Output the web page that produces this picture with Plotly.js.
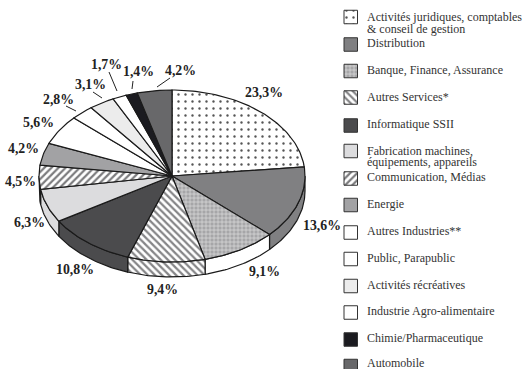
<!DOCTYPE html>
<html>
<head>
<meta charset="utf-8">
<script src="https://cdn.plot.ly/plotly-3.0.1.min.js"></script>
<style>html,body{margin:0;padding:0;background:#fff}#chart{width:523px;height:369px}</style>
</head>
<body>
<div id="chart"></div>
<script>
// Secteurs d'activité, parts en pourcentage
const categories = [
  "Activités juridiques, comptables<br>& conseil de gestion",
  "Distribution",
  "Banque, Finance, Assurance",
  "Autres Services*",
  "Informatique SSII",
  "Fabrication machines,<br>équipements, appareils",
  "Communication, Médias",
  "Energie",
  "Autres Industries**",
  "Public, Parapublic",
  "Activités récréatives",
  "Industrie Agro-alimentaire",
  "Chimie/Pharmaceutique",
  "Automobile"
];
const shares = [23.3, 13.6, 9.1, 9.4, 10.8, 6.3, 4.5, 4.2, 5.6, 2.8, 3.1, 1.7, 1.4, 4.2];

// Apparence de chaque secteur (dessus, flanc)
const topColors  = ["#ffffff","#808082","#b4b4b6","#ffffff","#4b4b4d","#dcdcde","#ffffff","#a2a2a4","#ffffff","#ffffff","#ececec","#ffffff","#1b1b20","#68686a"];
const sideColors = ["#ffffff","#808082","#ffffff","#ffffff","#4b4b4d","#dcdcde","#ffffff","#a2a2a4","#ffffff","#ffffff","#ececec","#ffffff","#1b1b20","#68686a"];
const patterns = [
  {shape:".", size:7, solidity:0.09, fgcolor:"#555", bgcolor:"#fff"},
  null,
  {shape:"+", size:4, solidity:0.3, fgcolor:"#dedee0", bgcolor:"#a6a6a8"},
  {shape:"\\", size:5, solidity:0.45, fgcolor:"#858587", bgcolor:"#fff"},
  null, null,
  {shape:"/", size:5, solidity:0.45, fgcolor:"#7c7c7e", bgcolor:"#fff"},
  null, null, null, null, null, null, null
];
const sidePatterned = [false,false,false,true,false,false,true,false,false,false,false,false,false,false];

// Projection du disque : centre, demi-axes et épaisseur en pixels
const cx = 172, cy = 176, rx = 133, ry = 86, depth = 15;
const W = 523, H = 369;

// Étiquettes de valeur : ancres et filets de rappel
const labelPos = [
  [264,93],[322,225],[264,271],[162,289],[75,269],[29,223],[20,181],
  [23,148],[38,123],[58,99],[90,84],[106,64],[138,72],[180,70]
];
const leaders = [
  null,null,null,null,null,null,null,null,null,
  [[66,106],[76,111]],[[93,92],[102,98]],[[109,72],[117,91]],[[133,81],[132,89]],[[170,78],[157,87]]
];

// Légende : centre des pastilles, centre de chaque ligne de texte
const legendRows = [17,44.5,71,97.5,125.5,151,178.5,205,232.5,259,286,312.5,339.5,366];
const legendTextRows = [[17,28.5],[43],[70],[97],[124],[151,162],[177],[204],[231],[258],[285],[311],[338],[362.5]];
const swatchX = 344, swatchSize = 13.5, legendTextX = 366;

const fmt = v => v.toFixed(1).replace(".", ",") + "%";

function arc(a0, a1, k) {
  const n = Math.max(2, Math.ceil((a1 - a0) / 0.02));
  const xs = [], ys = [];
  for (let i = 0; i <= n; i++) {
    const a = a0 + (a1 - a0) * i / n;
    xs.push(Math.sin(a)); ys.push(Math.cos(a) - k);
  }
  return [xs, ys];
}

const traces = [];
const total = shares.reduce((s, v) => s + v, 0);
const bounds = [];
let run = 0;
shares.forEach(v => { bounds.push([run / total * 2 * Math.PI, (run + v) / total * 2 * Math.PI]); run += v; });

// Flanc visible : moitié avant du disque uniquement
const k = depth / ry;
bounds.forEach((b, i) => {
  const a0 = Math.max(b[0], Math.PI / 2), a1 = Math.min(b[1], 3 * Math.PI / 2);
  if (a1 <= a0) return;
  const [xt, yt] = arc(a0, a1, 0);
  const [xb, yb] = arc(a0, a1, k);
  const t = {
    type: "scatter", mode: "lines", hoverinfo: "skip", showlegend: false,
    x: xt.concat(xb.slice().reverse(), [xt[0]]),
    y: yt.concat(yb.slice().reverse(), [yt[0]]),
    fill: "toself", fillcolor: sideColors[i],
    line: {color: "#1a1a1a", width: 1.2}
  };
  if (sidePatterned[i]) t.fillpattern = patterns[i];
  traces.push(t);
});

// Dessus du disque
bounds.forEach((b, i) => {
  const [xs, ys] = arc(b[0], b[1], 0);
  const t = {
    type: "scatter", mode: "lines", hoverinfo: "skip", showlegend: false, name: categories[i],
    x: [0].concat(xs, [0]), y: [0].concat(ys, [0]),
    fill: "toself", fillcolor: topColors[i],
    line: {color: "#1a1a1a", width: 1.2}
  };
  if (patterns[i]) t.fillpattern = patterns[i];
  traces.push(t);
});

// Pastilles de légende
legendRows.forEach((yc, i) => {
  const y0 = yc - swatchSize / 2, y1 = yc + swatchSize / 2, x0 = swatchX, x1 = swatchX + swatchSize;
  const t = {
    type: "scatter", mode: "lines", hoverinfo: "skip", showlegend: false, xaxis: "x2", yaxis: "y2",
    x: [x0, x1, x1, x0, x0], y: [y0, y0, y1, y1, y0],
    fill: "toself", fillcolor: topColors[i],
    line: {color: "#333", width: 1}
  };
  if (patterns[i]) t.fillpattern = patterns[i];
  traces.push(t);
});

const annotations = [];
shares.forEach((v, i) => {
  annotations.push({
    xref: "paper", yref: "paper", xanchor: "center", yanchor: "middle",
    x: labelPos[i][0] / W, y: 1 - labelPos[i][1] / H,
    text: "<b>" + fmt(v) + "</b>", showarrow: false,
    font: {family: "'Liberation Serif', serif", size: 13.8, color: "#222"}
  });
});
// Chaque ligne de libellé est placée séparément pour garder un interligne serré
categories.forEach((c, i) => {
  c.split("<br>").forEach((line, j) => {
    annotations.push({
      xref: "paper", yref: "paper", xanchor: "left", yanchor: "middle", align: "left",
      x: legendTextX / W, y: 1 - legendTextRows[i][j] / H,
      text: line, showarrow: false, borderpad: 0,
      font: {family: "'Liberation Serif', serif", size: 12, color: "#333"}
    });
  });
});

const shapes = leaders.filter(Boolean).map(l => ({
  type: "line", xref: "paper", yref: "paper",
  x0: l[0][0] / W, y0: 1 - l[0][1] / H, x1: l[1][0] / W, y1: 1 - l[1][1] / H,
  line: {color: "#222", width: 1}
}));

const hiddenAxis = {visible: false, fixedrange: true, showgrid: false, zeroline: false};
Plotly.newPlot("chart", traces, {
  width: W, height: H,
  margin: {l: 0, r: 0, t: 0, b: 0},
  paper_bgcolor: "#fff", plot_bgcolor: "#fff",
  showlegend: false,
  xaxis: Object.assign({range: [-cx / rx, (W - cx) / rx]}, hiddenAxis),
  yaxis: Object.assign({range: [-(H - cy) / ry, cy / ry]}, hiddenAxis),
  xaxis2: Object.assign({range: [0, W], overlaying: "x"}, hiddenAxis),
  yaxis2: Object.assign({range: [H, 0], overlaying: "y"}, hiddenAxis),
  annotations, shapes
}, {staticPlot: true});
</script>
</body>
</html>
